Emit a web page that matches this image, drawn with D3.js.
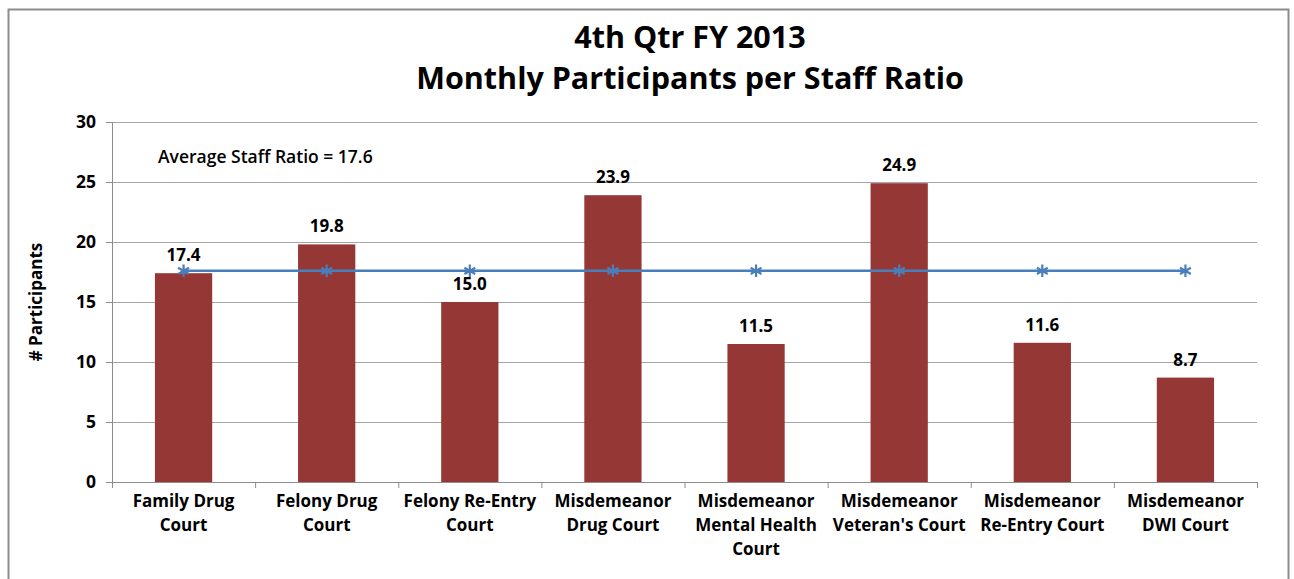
<!DOCTYPE html>
<html>
<head>
<meta charset="utf-8">
<script src="https://cdn.jsdelivr.net/npm/d3@7"></script>
<style>
  body { margin: 0; background: #fff; }
  text { font-family: "Open Sans", Lato, sans-serif; fill: #000; }
</style>
</head>
<body>
<div class="chart"></div>
<script>
// datos del gráfico
const courts = [
  ['Family Drug', 'Court'],
  ['Felony Drug', 'Court'],
  ['Felony Re-Entry', 'Court'],
  ['Misdemeanor', 'Drug Court'],
  ['Misdemeanor', 'Mental Health', 'Court'],
  ['Misdemeanor', "Veteran's Court"],
  ['Misdemeanor', 'Re-Entry Court'],
  ['Misdemeanor', 'DWI Court']
];
const ratios = [17.4, 19.8, 15.0, 23.9, 11.5, 24.9, 11.6, 8.7];
const average = 17.6;
const yTicks = [0, 5, 10, 15, 20, 25, 30];
const titleLines = ['4th Qtr FY 2013', 'Monthly Participants per Staff Ratio'];

const W = 1294, H = 579;
const margin = { top: 122, right: 37, bottom: 97, left: 112 };
const width = W - margin.left - margin.right;
const height = H - margin.top - margin.bottom;

const svg = d3.select('.chart')
  .append('svg')
  .attr('width', W)
  .attr('height', H);

// marco exterior
svg.append('rect')
  .attr('x', 8.5).attr('y', 9.5)
  .attr('width', 1280).attr('height', 600)
  .attr('fill', 'none')
  .attr('stroke', '#8c8c8c')
  .attr('stroke-width', 2);

// título
svg.append('text')
  .attr('x', 690).attr('y', 48)
  .attr('text-anchor', 'middle')
  .attr('font-size', 30.5)
  .attr('font-weight', 'bold')
  .text(titleLines[0]);
svg.append('text')
  .attr('x', 690).attr('y', 89)
  .attr('text-anchor', 'middle')
  .attr('font-size', 30.5)
  .attr('font-weight', 'bold')
  .text(titleLines[1]);

const g = svg.append('g')
  .attr('transform', `translate(${margin.left}, ${margin.top})`);

const x = d3.scaleBand()
  .domain(d3.range(courts.length))
  .range([0, width]);

const y = d3.scaleLinear()
  .domain([0, 30])
  .range([height, 0]);

// rejilla
g.append('g')
  .selectAll('line')
  .data(yTicks)
  .join('line')
  .attr('x1', 0).attr('x2', width)
  .attr('y1', d => Math.round(y(d)) + 0.5)
  .attr('y2', d => Math.round(y(d)) + 0.5)
  .attr('stroke', '#a6a6a6')
  .attr('stroke-width', 1);

// eje y
const yAxis = d3.axisLeft(y)
  .tickValues(yTicks)
  .tickSize(6)
  .tickPadding(10)
  .tickSizeOuter(0);

g.append('g')
  .attr('class', 'y axis')
  .call(yAxis)
  .call(s => s.select('.domain').attr('stroke', '#8c8c8c'))
  .call(s => s.selectAll('.tick line').attr('stroke', '#8c8c8c'))
  .call(s => s.selectAll('.tick text')
    .attr('font-family', '"Open Sans", sans-serif')
    .attr('font-size', 17.5)
    .attr('font-weight', 'bold')
    .attr('fill', '#000'));

// eje x con marcas entre categorías
g.append('line')
  .attr('x1', 0).attr('x2', width)
  .attr('y1', height + 0.5).attr('y2', height + 0.5)
  .attr('stroke', '#8c8c8c');
g.append('g')
  .selectAll('line')
  .data(d3.range(courts.length + 1))
  .join('line')
  .attr('x1', d => d * x.step() + 0.5)
  .attr('x2', d => d * x.step() + 0.5)
  .attr('y1', height).attr('y2', height + 6)
  .attr('stroke', '#8c8c8c');

// barras
const barW = x.bandwidth() * 0.4;
g.append('g')
  .selectAll('rect')
  .data(ratios)
  .join('rect')
  .attr('x', (d, i) => x(i) + (x.bandwidth() - barW) / 2)
  .attr('y', d => y(d))
  .attr('width', barW)
  .attr('height', d => y(0) - y(d))
  .attr('fill', '#953735');

// línea de la media
const line = d3.line()
  .x((d, i) => x(i) + x.bandwidth() / 2)
  .y(d => y(d));
const avgData = ratios.map(() => average);

g.append('path')
  .datum(avgData)
  .attr('d', line)
  .attr('fill', 'none')
  .attr('stroke', '#4a7ebb')
  .attr('stroke-width', 2.5);

// marcadores en estrella
const star = d3.symbol().type(d3.symbolAsterisk).size(110);
g.append('g')
  .selectAll('path')
  .data(avgData)
  .join('path')
  .attr('transform', (d, i) => `translate(${x(i) + x.bandwidth() / 2}, ${y(d)})`)
  .attr('d', star)
  .attr('fill', 'none')
  .attr('stroke', '#4a7ebb')
  .attr('stroke-width', 2.2);

// etiquetas de valores
g.append('g')
  .selectAll('text')
  .data(ratios)
  .join('text')
  .attr('x', (d, i) => x(i) + x.bandwidth() / 2)
  .attr('y', d => y(d) - 12)
  .attr('text-anchor', 'middle')
  .attr('font-size', 17)
  .attr('font-weight', 'bold')
  .text(d => d.toFixed(1));

// etiquetas de categoría
const labels = g.append('g')
  .selectAll('text')
  .data(courts)
  .join('text')
  .attr('text-anchor', 'middle')
  .attr('font-size', 17)
  .attr('font-weight', 'bold')
  .attr('transform', (d, i) => `translate(${x(i) + x.bandwidth() / 2}, ${height + 25})`);
labels.selectAll('tspan')
  .data(d => d)
  .join('tspan')
  .attr('x', 0)
  .attr('y', (d, i) => i * 24)
  .text(d => d);

// texto de la media
g.append('text')
  .attr('x', 46)
  .attr('y', y(26.6))
  .attr('font-size', 17.5)
  .attr('font-weight', 600)
  .text(`Average Staff Ratio = ${average}`);

// título del eje y
svg.append('text')
  .attr('transform', `translate(42, ${margin.top + y(15)}) rotate(-90)`)
  .attr('text-anchor', 'middle')
  .attr('font-size', 17)
  .attr('font-weight', 'bold')
  .text('# Participants');
</script>
</body>
</html>
